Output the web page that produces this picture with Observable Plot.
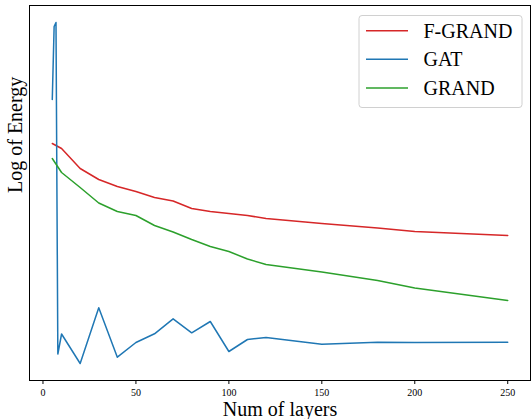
<!DOCTYPE html>
<html>
<head>
<meta charset="utf-8">
<script src="https://cdn.jsdelivr.net/npm/d3@7"></script>
<script src="https://cdn.jsdelivr.net/npm/@observablehq/plot@0.6"></script>
<style>
  html, body { margin: 0; padding: 0; background: #fff; }
  #chart { position: relative; width: 531px; height: 419px; }
</style>
</head>
<body>
<div id="chart"></div>
<script>
// Series names and colours
const seriesNames = ["F-GRAND", "GAT", "GRAND"];
const seriesColors = ["#d62728", "#1f77b4", "#2ca02c"];

// Number of layers (x) for each series
const fgrandLayers = [5, 10, 20, 30, 40, 50, 60, 70, 80, 90, 100, 110, 120, 150, 180, 200, 250];
const gatLayers    = [5, 6, 7, 8, 10, 20, 30, 40, 50, 60, 70, 80, 90, 100, 110, 120, 150, 180, 200, 250];
const grandLayers  = [5, 10, 20, 30, 40, 50, 60, 70, 80, 90, 100, 110, 120, 150, 180, 200, 250];

// Log of energy (arbitrary units)
const fgrandEnergy = [23.7, 23.2, 21.2, 20.1, 19.4, 18.9, 18.3, 17.95, 17.2, 16.9, 16.7, 16.5, 16.2, 15.7, 15.25, 14.9, 14.5];
const gatEnergy    = [28.1, 35.4, 35.8, 2.65, 4.65, 1.7, 7.27, 2.33, 3.8, 4.67, 6.17, 4.77, 5.9, 2.9, 4.1, 4.3, 3.63, 3.83, 3.8, 3.83];
const grandEnergy  = [22.2, 20.8, 19.3, 17.75, 16.9, 16.5, 15.5, 14.85, 14.1, 13.4, 12.9, 12.15, 11.6, 10.85, 10.0, 9.25, 8.0];

// Axis ticks
const xTicks = [0, 50, 100, 150, 200, 250];

const rows = [];
[[fgrandLayers, fgrandEnergy], [gatLayers, gatEnergy], [grandLayers, grandEnergy]].forEach(([xs, ys], i) => {
  xs.forEach((x, j) => rows.push({series: seriesNames[i], layers: x, energy: ys[j]}));
});

const font = "'Liberation Serif', 'Times New Roman', serif";

const plot = Plot.plot({
  width: 531,
  height: 419,
  marginLeft: 29,
  marginRight: 1,
  marginTop: 5,
  marginBottom: 39,
  style: {fontFamily: font, background: "#fff", color: "#000"},
  x: {domain: [-7.25, 262.25]},
  y: {domain: [0, 37.5]},
  color: {domain: seriesNames, range: seriesColors},
  marks: [
    Plot.line(rows, {x: "layers", y: "energy", z: "series", stroke: "series", strokeWidth: 1.5}),
    Plot.frame({stroke: "#000", strokeWidth: 1}),
    Plot.axisX({ticks: xTicks, tickSize: 4, tickPadding: 4, fontSize: 10, label: null, stroke: "#000"}),
    Plot.axisY({ticks: [], label: null}),
    Plot.text(["Num of layers"], {frameAnchor: "bottom", lineAnchor: "middle", dy: 29, fontSize: 20, fill: "#000"}),
    Plot.text(["Log of Energy"], {frameAnchor: "left", lineAnchor: "middle", rotate: -90, dx: -14, fontSize: 20, fill: "#000"})
  ]
});

document.getElementById("chart").appendChild(plot);

// Legend inside the plot (upper right)
const svg = d3.select(plot);
const lg = svg.append("g").attr("transform", "translate(359,15.5)");
lg.append("rect")
  .attr("width", 163).attr("height", 92)
  .attr("rx", 3).attr("ry", 3)
  .attr("fill", "#fff").attr("fill-opacity", 0.85)
  .attr("stroke", "#d0d0d0").attr("stroke-width", 1);
seriesNames.forEach((name, i) => {
  const y = 15.2 + i * 28.6;
  lg.append("line")
    .attr("x1", 7).attr("x2", 49)
    .attr("y1", y).attr("y2", y)
    .attr("stroke", seriesColors[i]).attr("stroke-width", 1.5);
  lg.append("text")
    .attr("x", 64.5).attr("y", y)
    .attr("dy", "0.35em")
    .attr("text-anchor", "start")
    .attr("font-family", font)
    .attr("font-size", 20)
    .attr("fill", "#000")
    .text(name);
});
</script>
</body>
</html>
